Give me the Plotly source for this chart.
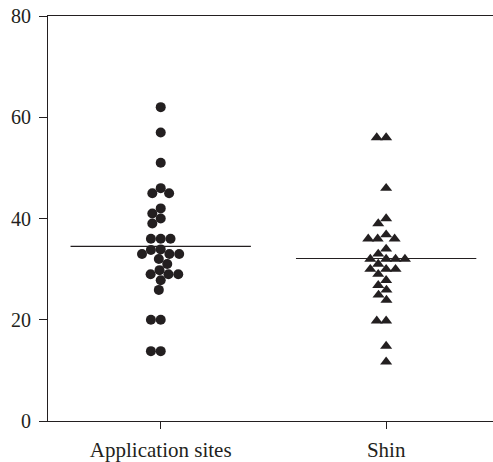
import math
import plotly.graph_objects as go

categories = ["Application sites", "Shin"]

application_sites = [62, 57, 51, 46, 45, 45, 42, 41, 40, 39,
                     36, 36, 36, 33.8, 33, 33, 32, 33, 33.9, 31,
                     29, 29, 29.8, 29, 27.8, 25.9, 20, 20, 13.8, 13.8]
shin = [56, 56, 46, 40, 39, 36.8, 36, 36, 36, 34,
        32, 32, 32, 32, 33, 31, 30, 30, 30, 29,
        27.8, 26.8, 25.9, 24.9, 23.9, 19.8, 19.8, 14.8, 11.7]
means = [34.5, 32.1]

y_ticks = [0, 20, 40, 60, 80]

W, H = 493, 462
ML, MR, MT, MB = 48, 0, 16, 41
X_RANGE = [-0.5, 1.474]
Y_RANGE = [0, 80]
px_per_x = (W - ML - MR) / (X_RANGE[1] - X_RANGE[0])
px_per_y = (H - MT - MB) / (Y_RANGE[1] - Y_RANGE[0])


def swarm(values, d):
    """Beeswarm offsets (category units) computed from the values."""
    order = sorted(range(len(values)), key=lambda i: -values[i])
    placed = []
    offs = [0.0] * len(values)
    for i in order:
        y = values[i] * px_per_y
        cands = [0.0]
        near = []
        for (px, py) in placed:
            dy = abs(py - y)
            if dy < d:
                dx = math.sqrt(d * d - dy * dy)
                near.append((px, dx))
                cands += [px - dx, px + dx]
        best = None
        for c in sorted(cands, key=lambda c: (round(abs(c), 3), c)):
            if all(abs(c - px) >= dx - 1e-6 for px, dx in near):
                best = c
                break
        placed.append((best, y))
        offs[i] = best / px_per_x
    return offs


fig = go.Figure()
ink = "#231f20"

off_a = swarm(application_sites, 9.8)
fig.add_trace(go.Scatter(
    x=[0 + o for o in off_a], y=application_sites, mode="markers",
    marker=dict(symbol="circle", size=10, color=ink, line=dict(width=0)),
    showlegend=False, hoverinfo="y"))

off_s = swarm(shin, 9.4)
fig.add_trace(go.Scatter(
    x=[1 + o for o in off_s], y=shin, mode="markers",
    marker=dict(symbol="triangle-up", size=10.5, color=ink, line=dict(width=0)),
    showlegend=False, hoverinfo="y"))

for k, m in enumerate(means):
    fig.add_trace(go.Scatter(
        x=[k - 0.4, k + 0.4], y=[m, m], mode="lines",
        line=dict(color=ink, width=1.2), showlegend=False, hoverinfo="skip"))

family = "Liberation Serif, Times New Roman, serif"
xfont = dict(family=family, size=21, color=ink)
yfont = dict(family=family, size=20, color=ink)

fig.update_layout(
    width=W, height=H,
    margin=dict(l=ML, r=MR, t=MT, b=MB, pad=0),
    plot_bgcolor="white", paper_bgcolor="white",
    font=yfont,
    xaxis=dict(
        range=X_RANGE, tickmode="array", tickvals=[0, 1], ticktext=categories,
        showline=True, linecolor=ink, linewidth=1.2, mirror=True,
        ticks="outside", ticklen=7, tickcolor=ink, tickwidth=1.2,
        showgrid=False, zeroline=False, tickfont=xfont, ticklabelstandoff=3,
        automargin=False),
    yaxis=dict(
        range=Y_RANGE, tickmode="array", tickvals=y_ticks,
        showline=True, linecolor=ink, linewidth=1.2,
        ticks="outside", ticklen=8, tickcolor=ink, tickwidth=1.2,
        showgrid=False, zeroline=False, tickfont=yfont, ticklabelstandoff=4,
        automargin=False),
)

fig.write_html(
    "out.html",
    config={"displayModeBar": False},
    post_script="document.body.style.margin='0';document.body.style.padding='0';",
)
